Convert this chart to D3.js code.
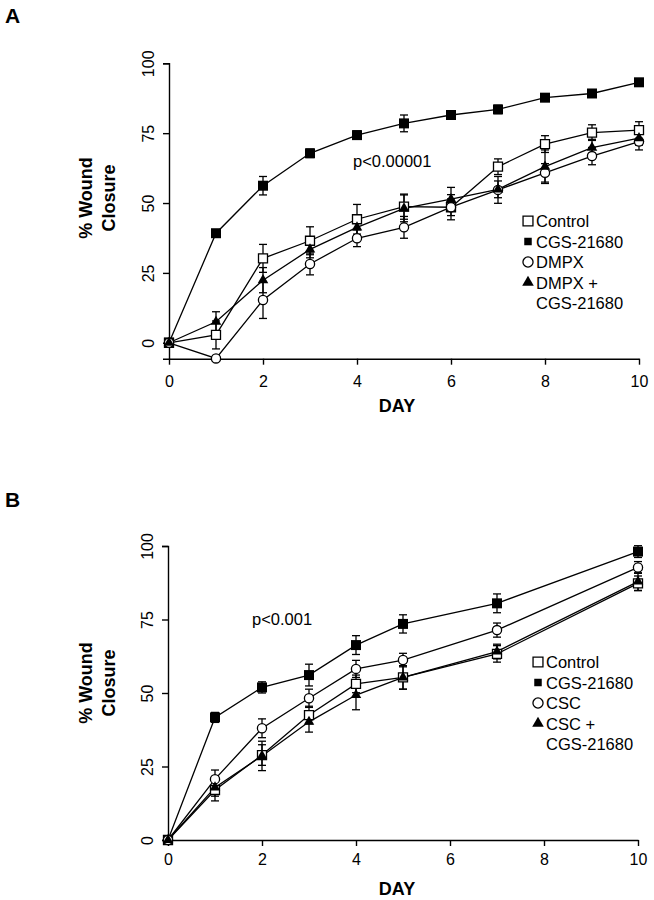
<!DOCTYPE html>
<html>
<head>
<meta charset="utf-8">
<script src="https://cdn.jsdelivr.net/npm/d3@7"></script>
<style>
  body { margin: 0; background: #fff; }
  svg { display: block; font-family: "Liberation Sans", Arial, sans-serif; }
</style>
</head>
<body>
<div id="chart"></div>
<script>
// Panel A data (days 0-10)
const daysA = [0, 1, 2, 3, 4, 5, 6, 7, 8, 9, 10];
const controlA = [0, 2.8, 30.2, 36.5, 44.2, 48.7, 48.5, 63.0, 71.1, 75.2, 76.1];
const controlErrA = [0, 5, 5, 5, 5.3, 4.5, 4.5, 2.8, 3, 2.8, 3];
const cgsA = [0, 39.2, 56.2, 67.8, 74.3, 78.5, 81.5, 83.5, 87.7, 89.2, 93.2];
const cgsErrA = [0, 1, 3.3, 1.5, 1.5, 3, 1.5, 1.5, 1, 1, 1];
const dmpxA = [0, -5.6, 15.3, 28.2, 37.4, 41.3, 48.5, 54.7, 60.8, 66.8, 72.0];
const dmpxErrA = [0, 1, 6.6, 3.9, 3, 3.9, 3, 4.8, 3.3, 3.1, 3];
const dmpxCgsA = [0, 7.5, 22.4, 33.4, 41.3, 48.1, 51.4, 54.9, 63.0, 69.8, 73.2];
const dmpxCgsErrA = [0, 3.6, 4.5, 3, 3, 4.8, 4.2, 3, 6, 3, 2.5];

// Panel B data
const daysB = [0, 1, 2, 3, 4, 5, 7, 10];
const controlB = [0, 17.0, 28.9, 42.5, 53.1, 55.3, 63.3, 87.3];
const controlErrB = [0, 3.7, 3.5, 3, 3, 4, 2.8, 2.5];
const cgsB = [0, 41.7, 51.9, 56.1, 66.3, 73.5, 80.5, 98.1];
const cgsErrB = [0, 1.7, 1.9, 3.7, 3.2, 3.1, 3.2, 2];
const cscB = [0, 20.7, 38.0, 48.2, 58.2, 61.2, 71.4, 92.7];
const cscErrB = [0, 3.1, 3.2, 3.1, 2.9, 2.3, 2.4, 2];
const cscCgsB = [0, 17.9, 28.6, 40.2, 49.3, 55.3, 64.1, 87.9];
const cscCgsErrB = [0, 3, 5, 3.5, 5, 4, 2.5, 3];

const yTicks = [0, 25, 50, 75, 100];
const xTicks = [0, 2, 4, 6, 8, 10];
const legendA = ["Control", "CGS-21680", "DMPX", "DMPX +", "CGS-21680"];
const legendB = ["Control", "CGS-21680", "CSC", "CSC +", "CGS-21680"];
const markerKinds = ["openSquare", "filledSquare", "openCircle", "filledTriangle"];

const width = 654, height = 900;
const svg = d3.select("#chart").append("svg")
    .attr("width", width)
    .attr("height", height);

// draw one marker shape at (x, y)
function marker(g, kind, x, y, scale) {
    const s = scale || 1;
    if (kind === "openSquare") {
        g.append("path").attr("d", d3.symbol(d3.symbolSquare, 81 * s * s)())
            .attr("transform", `translate(${x},${y})`)
            .attr("fill", "#fff").attr("stroke", "#000").attr("stroke-width", 1.3);
    } else if (kind === "filledSquare") {
        g.append("path").attr("d", d3.symbol(d3.symbolSquare, 100 * s * s)())
            .attr("transform", `translate(${x},${y})`)
            .attr("fill", "#000");
    } else if (kind === "openCircle") {
        g.append("circle").attr("cx", x).attr("cy", y).attr("r", 4.6 * s)
            .attr("fill", "#fff").attr("stroke", "#000").attr("stroke-width", 1.3);
    } else {
        g.append("path").attr("d", d3.symbol(d3.symbolTriangle, 48 * s * s)())
            .attr("transform", `translate(${x},${y})`)
            .attr("fill", "#000");
    }
}

function drawPanel(p) {
    const x = d3.scaleLinear().domain([0, 10]).range([p.left, p.right]);
    const y = d3.scaleLinear().domain([p.yMin, 100]).range([p.bottom, p.top]);
    const g = svg.append("g");

    // panel letter
    g.append("text").attr("x", 5).attr("y", p.letterY)
        .style("font-size", "21px").style("font-weight", "bold").text(p.letter);

    // y axis
    const yAxis = g.append("g").attr("transform", `translate(${p.left},0)`)
        .call(d3.axisLeft(y).tickValues(yTicks).tickSize(6).tickSizeOuter(6));
    yAxis.selectAll("text")
        .attr("transform", "rotate(-90)")
        .attr("x", 0).attr("y", -15).attr("dy", null)
        .attr("text-anchor", "middle")
        .style("font-size", "16px").attr("fill", "#000");

    // x axis
    const xAxis = g.append("g").attr("transform", `translate(0,${p.bottom})`)
        .call(d3.axisBottom(x).tickValues(xTicks).tickSize(6).tickSizeOuter(0));
    xAxis.selectAll("text")
        .attr("y", p.xLabelOff).attr("dy", null)
        .style("font-size", "16px").attr("fill", "#000");
    g.selectAll(".domain, .tick line").attr("stroke", "#000").attr("stroke-width", 1.4);

    // axis titles
    g.append("text").attr("x", 397).attr("y", p.dayY)
        .attr("text-anchor", "middle")
        .style("font-size", "18px").style("font-weight", "bold").text("DAY");
    const yt = g.append("text")
        .attr("transform", `translate(91.5,${p.yTitleMid}) rotate(-90)`)
        .attr("text-anchor", "middle")
        .style("font-size", "18px").style("font-weight", "bold");
    yt.append("tspan").attr("x", 0).attr("y", 0).text("% Wound");
    yt.append("tspan").attr("x", 0).attr("y", 23).text("Closure");

    // p-value
    g.append("text").attr("x", p.pX).attr("y", p.pY)
        .style("font-size", "16.5px").text(p.pText);

    const line = d3.line().x((d, i) => x(p.days[i])).y(d => y(d));

    // lines
    p.series.forEach(s => {
        g.append("path").datum(s.values)
            .attr("fill", "none").attr("stroke", "#000").attr("stroke-width", 1.3)
            .attr("d", line);
    });

    // error bars
    p.series.forEach(s => {
        s.values.forEach((v, i) => {
            const e = s.errs[i];
            if (!e) return;
            const cx = x(p.days[i]);
            const eb = g.append("g").attr("stroke", "#000").attr("stroke-width", 1.3);
            eb.append("line").attr("x1", cx).attr("x2", cx).attr("y1", y(v - e)).attr("y2", y(v + e));
            eb.append("line").attr("x1", cx - 4).attr("x2", cx + 4).attr("y1", y(v - e)).attr("y2", y(v - e));
            eb.append("line").attr("x1", cx - 4).attr("x2", cx + 4).attr("y1", y(v + e)).attr("y2", y(v + e));
        });
    });

    // markers
    p.series.forEach((s, k) => {
        s.values.forEach((v, i) => marker(g, markerKinds[k], x(p.days[i]), y(v)));
    });

    // legend
    const lg = g.append("g");
    p.legend.forEach((label, i) => {
        const ly = p.legY + i * 20.5;
        if (i < 4) marker(lg, markerKinds[i], p.legX, ly, i === 1 ? 0.75 : 1.1);
        lg.append("text").attr("x", p.legX + 8).attr("y", ly + 6)
            .style("font-size", "16.5px").text(label);
    });
}

drawPanel({
    letter: "A", letterY: 23,
    left: 169, right: 639, top: 63.3, bottom: 358.7, yMin: -5.7,
    xLabelOff: 28, dayY: 412, yTitleMid: 198,
    pText: "p<0.00001", pX: 353, pY: 167,
    legX: 528, legY: 221, legend: legendA,
    days: daysA,
    series: [
        { values: controlA, errs: controlErrA },
        { values: cgsA, errs: cgsErrA },
        { values: dmpxA, errs: dmpxErrA },
        { values: dmpxCgsA, errs: dmpxCgsErrA }
    ]
});

drawPanel({
    letter: "B", letterY: 507,
    left: 168, right: 638, top: 546, bottom: 840, yMin: 0,
    xLabelOff: 25, dayY: 895, yTitleMid: 683,
    pText: "p<0.001", pX: 252, pY: 625,
    legX: 538, legY: 662, legend: legendB,
    days: daysB,
    series: [
        { values: controlB, errs: controlErrB },
        { values: cgsB, errs: cgsErrB },
        { values: cscB, errs: cscErrB },
        { values: cscCgsB, errs: cscCgsErrB }
    ]
});
</script>
</body>
</html>
